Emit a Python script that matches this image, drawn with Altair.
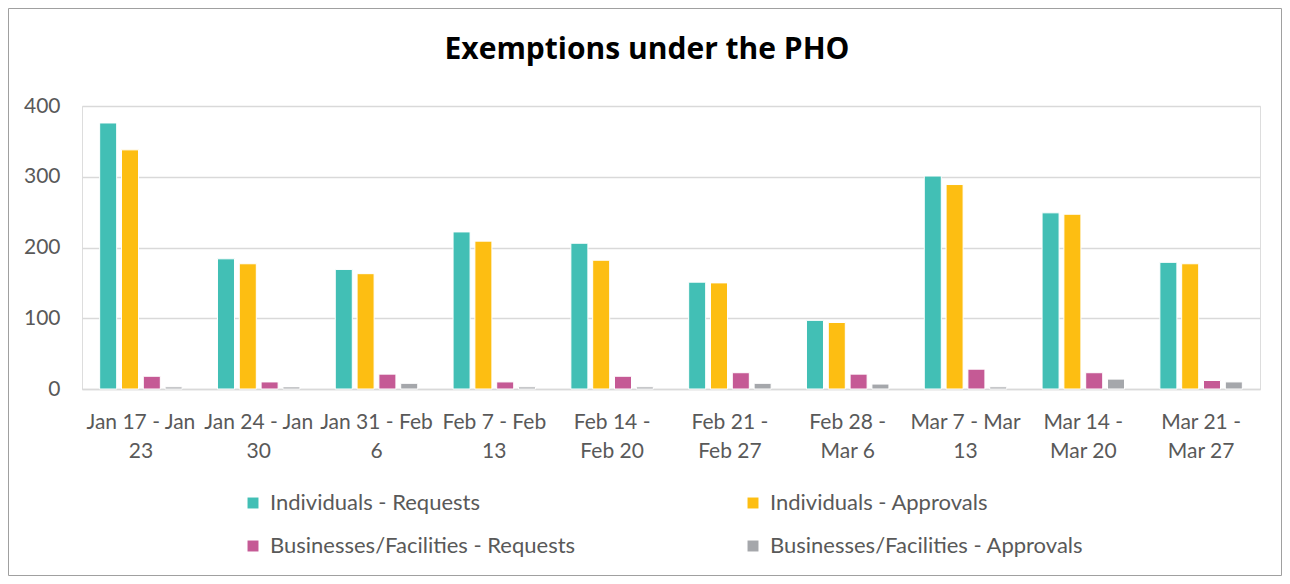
import altair as alt
import pandas as pd

categories = ["Jan 17 - Jan 23", "Jan 24 - Jan 30", "Jan 31 - Feb 6", "Feb 7 - Feb 13",
              "Feb 14 - Feb 20", "Feb 21 - Feb 27", "Feb 28 - Mar 6", "Mar 7 - Mar 13",
              "Mar 14 - Mar 20", "Mar 21 - Mar 27"]
label_line1 = ["Jan 17 - Jan", "Jan 24 - Jan", "Jan 31 - Feb", "Feb 7 - Feb", "Feb 14 -",
               "Feb 21 -", "Feb 28 -", "Mar 7 - Mar", "Mar 14 -", "Mar 21 -"]
label_line2 = ["23", "30", "6", "13", "Feb 20", "Feb 27", "Mar 6", "13", "Mar 20", "Mar 27"]

series = ["Individuals - Requests", "Individuals - Approvals",
          "Businesses/Facilities - Requests", "Businesses/Facilities - Approvals"]
ind_requests = [376, 184, 169, 222, 206, 151, 97, 301, 249, 179]
ind_approvals = [338, 177, 163, 209, 182, 150, 94, 289, 247, 177]
bus_requests = [18, 10, 21, 10, 18, 23, 21, 28, 23, 12]
bus_approvals = [3, 3, 8, 3, 3, 8, 7, 3, 14, 10]
colors = ["#42BFB5", "#FDBE12", "#C55A95", "#A5A7AB"]
title_text = "Exemptions under the PHO"

rows = []
for s, vals in zip(series, [ind_requests, ind_approvals, bus_requests, bus_approvals]):
    for c, v in zip(categories, vals):
        rows.append({"week": c, "series": s, "value": v})
df = pd.DataFrame(rows)

expr = "''"
for c, a, b in reversed(list(zip(categories, label_line1, label_line2))):
    expr = f"datum.value == '{c}' ? ['{a}', '{b}'] : ({expr})"

FONT = "Lato"
W, H = 1178, 283

bars = alt.Chart(df).mark_bar(stroke="white", strokeWidth=1).encode(
    x=alt.X("week:N", sort=categories, title=None,
            scale=alt.Scale(paddingInner=0.3, paddingOuter=0.15),
            axis=alt.Axis(labelExpr=expr, labelAngle=0, labelFontSize=21, labelColor="#595959",
                          labelFont=FONT, ticks=False, domainColor="#d9d9d9", domainWidth=1.5,
                          labelPadding=22, labelLineHeight=29, grid=False)),
    xOffset=alt.XOffset("series:N", sort=series, scale=alt.Scale(paddingInner=0.22)),
    y=alt.Y("value:Q", title=None,
            scale=alt.Scale(domain=[0, 400]),
            axis=alt.Axis(values=[0, 100, 200, 300, 400], labelFontSize=21, labelColor="#595959",
                          labelFont=FONT, ticks=False, domain=False, gridColor="#d9d9d9",
                          gridWidth=1.5, labelPadding=22)),
    color=alt.Color("series:N", sort=series, scale=alt.Scale(domain=series, range=colors),
                    legend=alt.Legend(title=None, orient="none", legendX=160, legendY=386,
                                      direction="horizontal", columns=2, columnPadding=166,
                                      rowPadding=21,
                                      symbolType="square", symbolSize=120, symbolStrokeWidth=0,
                                      labelFontSize=22, labelColor="#595959", labelFont=FONT,
                                      labelOffset=6, labelLimit=400)),
)

frame = alt.Chart(pd.DataFrame({"k": [0]})).mark_rect(
    fill=None, stroke="#a0a0a0", strokeWidth=1
).encode(x=alt.value(-73.5), x2=alt.value(1199.5), y=alt.value(-97.5), y2=alt.value(469.5))

title = alt.Chart(pd.DataFrame({"t": [title_text]})).mark_text(
    font="Open Sans", fontSize=30, fontWeight="bold", color="#000000", align="center",
    baseline="middle"
).encode(text="t:N", x=alt.value(565), y=alt.value(-56))

chart = alt.layer(frame, title, bars).properties(
    width=W, height=H, padding=0,
).configure_view(stroke=None).configure(background="white")

chart.save("out.html", embed_options={"renderer": "svg", "actions": False})
